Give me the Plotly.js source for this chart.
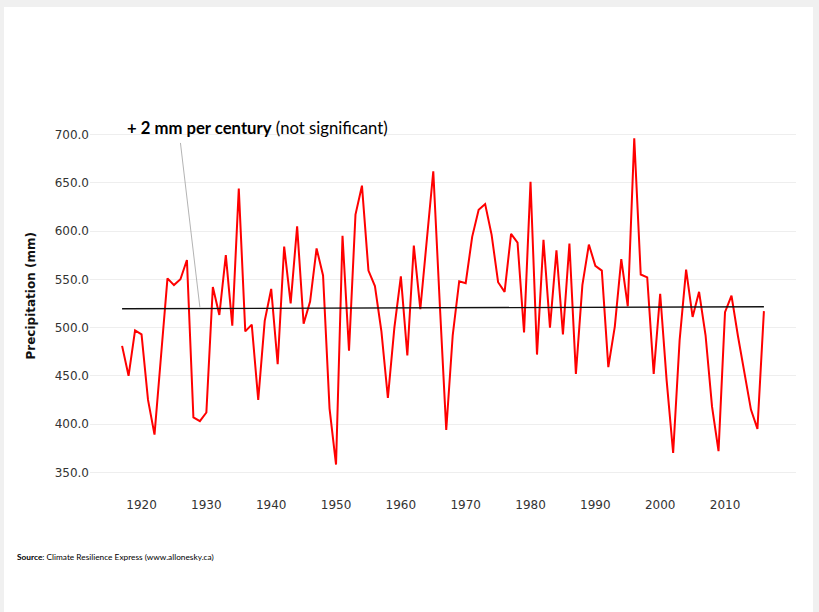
<!DOCTYPE html>
<html>
<head>
<meta charset="utf-8">
<script src="https://cdn.plot.ly/plotly-3.0.1.min.js"></script>
<style>
  html, body { margin: 0; padding: 0; background: #f0f0f0; width: 819px; height: 612px; overflow: hidden; }
  #chart { position: absolute; left: 4px; top: 7px; width: 809px; height: 605px; background: #ffffff; }
</style>
</head>
<body>
<div id="chart"></div>
<script>
// Annual precipitation (mm), 1917-2016
const years = [];
for (let y = 1917; y <= 2016; y++) years.push(y);
const precipitation = [
  481, 450, 497, 493, 425, 389, 470, 551, 544, 550,   // 1917-1926
  570, 407, 403, 412, 542, 513, 575, 502, 644, 496,   // 1927-1936
  503, 425, 507, 540, 462, 584, 525, 605, 504, 527,   // 1937-1946
  582, 554, 416, 358, 595, 476, 617, 647, 559, 543,   // 1947-1956
  496, 427, 500, 553, 471, 585, 519, 590, 662, 525,   // 1957-1966
  394, 492, 548, 546, 594, 622, 628, 596, 547, 537,   // 1967-1976
  597, 588, 495, 651, 472, 591, 500, 580, 493, 587,   // 1977-1986
  452, 544, 586, 564, 559, 459, 501, 571, 522, 696,   // 1987-1996
  555, 552, 452, 535, 445, 370, 487, 560, 511, 537,   // 1997-2006
  492, 418, 372, 516, 533, 491, 451, 415, 395, 517    // 2007-2016
];
// Linear trend (+2 mm per century)
const trendYears = [1917, 2016];
const trendValues = [519.5, 521.5];
const yTicks = [350, 400, 450, 500, 550, 600, 650, 700];
const xTicks = [1920, 1930, 1940, 1950, 1960, 1970, 1980, 1990, 2000, 2010];

const traces = [
  {
    x: years, y: precipitation, type: 'scatter', mode: 'lines',
    line: { color: '#ff0000', width: 2 }, hoverinfo: 'x+y'
  },
  {
    x: trendYears, y: trendValues, type: 'scatter', mode: 'lines',
    line: { color: '#111111', width: 1.4 }, hoverinfo: 'skip'
  }
];

const layout = {
  width: 809, height: 605,
  margin: { l: 86, r: 17, t: 115, b: 130.8, pad: 0 },
  paper_bgcolor: '#ffffff', plot_bgcolor: '#ffffff',
  showlegend: false,
  font: { family: 'DejaVu Sans', size: 12, color: '#333333' },
  xaxis: {
    range: [1912.05, 2020.95],
    tickvals: xTicks, ticktext: xTicks.map(String),
    showgrid: false, zeroline: false, showline: false,
    ticks: 'outside', ticklen: 13, tickcolor: 'rgba(0,0,0,0)',
    tickfont: { family: 'DejaVu Sans', size: 12, color: '#333333' }
  },
  yaxis: {
    range: [341, 713],
    tickvals: yTicks, tickformat: '.1f',
    showgrid: true, gridcolor: '#eeeeee', gridwidth: 1,
    zeroline: false, showline: false, ticks: '',
    tickfont: { family: 'DejaVu Sans', size: 12, color: '#333333' }
  },
  shapes: [
    {
      type: 'line', xref: 'x', yref: 'y',
      x0: 1926.0, y0: 691.3, x1: 1929.0, y1: 521.0,
      line: { color: '#a0a0a0', width: 0.8 }
    }
  ],
  annotations: [
    {
      xref: 'paper', yref: 'paper', x: 0.2373, y: 0.983,
      xanchor: 'center', yanchor: 'middle', showarrow: false,
      text: '<b>+ 2 mm per century</b> (not significant)',
      font: { family: 'Lato', size: 16.7, color: '#000000' }
    },
    {
      xref: 'paper', yref: 'paper', x: 0, y: 0.5,
      xshift: -60, yshift: 5, textangle: -90,
      xanchor: 'center', yanchor: 'middle', showarrow: false,
      text: '<b>Precipitation (mm)</b>',
      font: { family: 'DejaVu Sans', size: 12, color: '#111111' }
    },
    {
      xref: 'paper', yref: 'paper', x: 0, y: 0,
      xshift: -75, yshift: -76,
      xanchor: 'left', yanchor: 'middle', showarrow: false,
      text: '<b>Source</b>: Climate Resilience Express (www.allonesky.ca)',
      font: { family: 'Lato', size: 8.3, color: '#000000' }
    }
  ]
};

Plotly.newPlot('chart', traces, layout, { displayModeBar: false, staticPlot: true });
</script>
</body>
</html>
